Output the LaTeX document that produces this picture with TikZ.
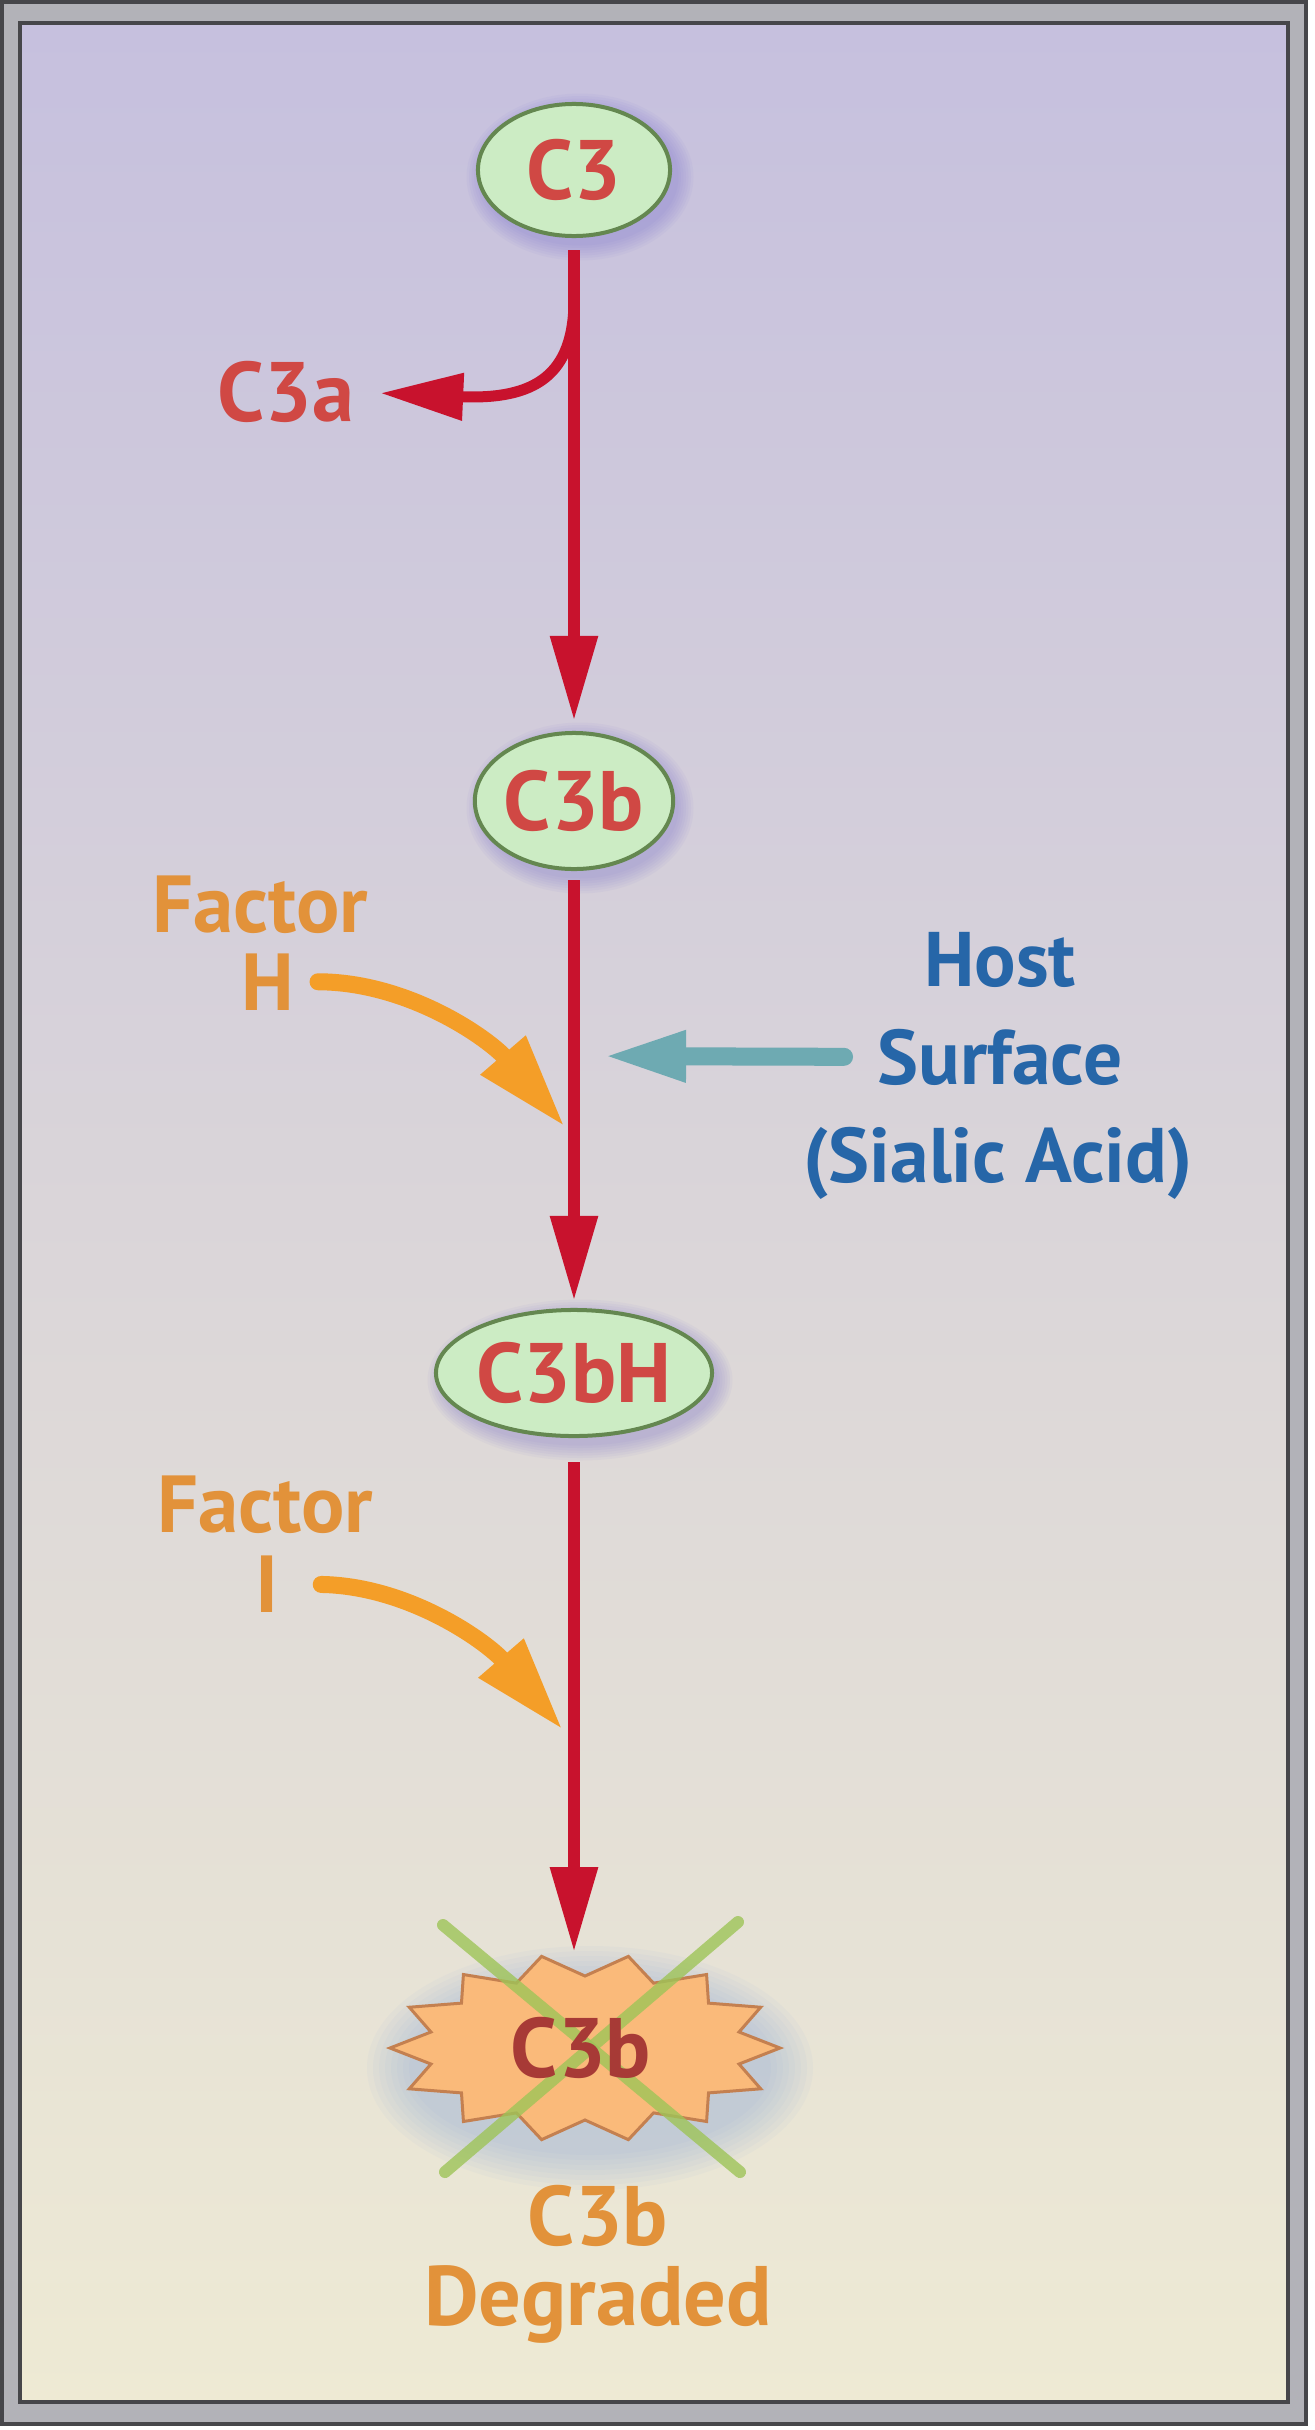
\documentclass[tikz,border=0pt]{standalone}
\usepackage{fontspec}
\setmainfont{PT Sans}
\usetikzlibrary{arrows.meta,shapes.geometric,calc}
\definecolor{bgtop}{RGB}{198,192,222}
\definecolor{bgmid}{RGB}{218,210,218}
\definecolor{bgbot}{RGB}{238,234,212}
\definecolor{framegray}{RGB}{178,178,184}
\definecolor{framedark}{RGB}{70,70,74}
\definecolor{cred}{RGB}{200,18,45}
\definecolor{txtred}{RGB}{208,72,68}
\definecolor{elfill}{RGB}{204,236,196}
\definecolor{elborder}{RGB}{100,135,80}
\definecolor{corange}{RGB}{244,158,40}
\definecolor{txtorange}{RGB}{226,146,58}
\definecolor{cteal}{RGB}{110,170,178}
\definecolor{cblue}{RGB}{38,102,168}
\definecolor{starfill}{RGB}{250,186,122}
\definecolor{starborder}{RGB}{196,128,80}
\definecolor{xgreen}{RGB}{158,196,88}
\definecolor{glow}{RGB}{120,110,205}
\definecolor{starglow}{RGB}{140,170,225}
\newcommand\glowell[4]{\foreach \i in {1,...,7}{\fill[glow, opacity=0.055] (#1+6,#2+7) ellipse [x radius=#3+\i*2.5, y radius=#4+\i*2.5];}}
\tikzset{
  bigfont/.style={font=\bfseries\fontsize{24}{28}\selectfont},
  ell/.style={ellipse, draw=elborder, line width=0.4mm, fill=elfill, text=txtred,
    bigfont, inner sep=0pt},
  rlab/.style={text=txtred, bigfont, inner sep=0pt},
  olab/.style={text=txtorange, font=\bfseries\fontsize{23}{27}\selectfont, inner sep=0pt},
  hlab/.style={text=cblue, font=\bfseries\fontsize{22}{27}\selectfont, inner sep=0pt},
  dlab/.style={text=txtorange, bigfont, inner sep=0pt},
  redarrow/.style={draw=cred, line width=1.2mm, -{Triangle[length=8.5mm,width=4.5mm]}},
  orarrow/.style={draw=corange, line width=1.7mm, line cap=round, -{Triangle[length=9.5mm,width=5.5mm]}},
  tealarrow/.style={draw=cteal, line width=1.8mm, line cap=round, -{Triangle[length=8.3mm,width=4.7mm]}},
  xline/.style={draw=xgreen, line width=1.2mm, line cap=round, opacity=0.8},
  burst/.style={fill=starfill, draw=starborder, line width=0.3mm}
}
\begin{document}
\begin{tikzpicture}[x=0.01cm,y=-0.01cm]
\useasboundingbox (0,0) rectangle (1314,2430);
% frame
\fill[white] (0,0) rectangle (1314,2430);
\draw[framedark, line width=0.35mm, fill=framegray] (2,2) rectangle (1306,2424);
\draw[framedark, line width=0.45mm, top color=bgtop, middle color=bgmid, bottom color=bgbot] (20,23) rectangle (1288,2402);

% glows
\glowell{574}{170}{96}{66}
\glowell{574}{801}{96}{68}
\glowell{574}{1373}{135}{63}
\foreach \i in {1,...,8}{\fill[starglow, opacity=0.06] (590,2068) ellipse [x radius=175+\i*6, y radius=82+\i*5];}

% main nodes
\node[ell, minimum width=1.92cm, minimum height=1.32cm] (c3) at (574,170) {C3};
\node[ell, minimum width=1.92cm, minimum height=1.36cm] (c3b) at (574,801) {C3b};
\node[ell, minimum width=2.70cm, minimum height=1.26cm] (c3bh) at (574,1373) {C3bH};
\node[rlab] (c3a) at (286,392) {C3a};

% degraded burst (14 points)
\filldraw[burst] (780,2048)
  \foreach \k [evaluate=\k as \rx using {ifthenelse(isodd(\k),158,195)},
               evaluate=\k as \ry using {ifthenelse(isodd(\k),72,94)}] in {1,...,27}
  { -- ({585+\rx*cos(\k*12.857)},{2048+\ry*sin(\k*12.857)}) } -- cycle;
\draw[xline] (443,1925) -- (740,2172);
\draw[xline] (738,1922) -- (445,2172);
\node[ellipse, minimum width=3.9cm, minimum height=1.9cm, inner sep=0pt,
      text=txtred!80!black, bigfont] (deg) at (581,2048) {C3b};

% labels
\node[olab, anchor=base] (fH1) at (260,932) {Factor};
\node[olab, anchor=base] (fH2) at (268,1010) {H};
\node[olab, anchor=base] (fI1) at (265,1532) {Factor};
\node[olab, anchor=base] (fI2) at (267,1612) {I};
\node[hlab, anchor=base] (host1) at (1000,986) {Host};
\node[hlab, anchor=base] (host2) at (1000,1084) {Surface};
\node[hlab, anchor=base] (host3) at (998,1182) {(Sialic Acid)};
\node[dlab, anchor=base] (dg1) at (598,2245) {C3b};
\node[dlab, anchor=base] (dg2) at (598,2325) {Degraded};

% coordinates on the main line
\coordinate (split) at (574,300);
\coordinate (tH) at (565,1127);
\coordinate (tI) at (563,1730);
\coordinate (tS) at (574,1056);

% main red arrows
\draw[redarrow, shorten <=1.2mm, shorten >=1mm] (c3) -- (c3b);
\draw[redarrow, shorten <=0.9mm, shorten >=0.7mm] (c3b) -- (c3bh);
\draw[redarrow, shorten <=2.4mm] (c3bh) -- (c3bh |- deg.north);
% C3a branch
\draw[draw=cred, line width=1.1mm, -{Triangle[length=8.3mm,width=4.5mm]}, shorten >=2.5mm]
  (split) .. controls (574,375) and (535,400) .. (c3a.east);
% factor arrows
\draw[orarrow, shorten <=2.3mm] (fH2.east) .. controls (410,982) and (490,1040) .. (tH);
\draw[orarrow, shorten <=4.2mm] (fI2.east) .. controls (410,1586) and (488,1643) .. (tI);
% host surface arrow
\draw[tealarrow, shorten <=3.3mm, shorten >=2.9mm] (host2.west) -- (tS);
\end{tikzpicture}
\end{document}
